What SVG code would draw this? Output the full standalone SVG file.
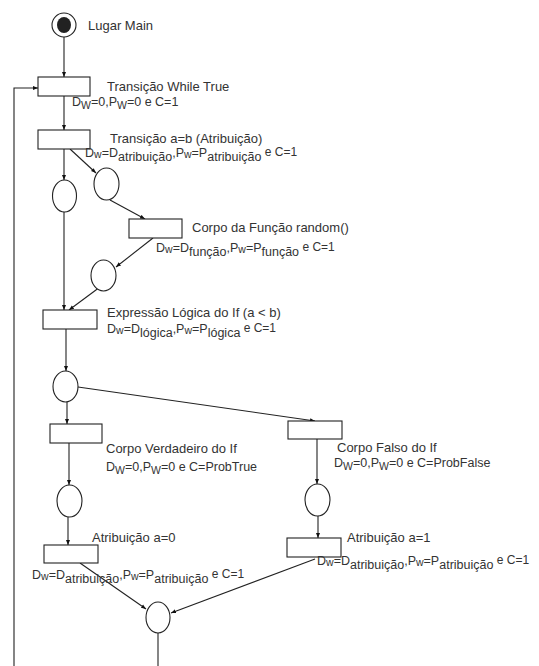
<svg xmlns="http://www.w3.org/2000/svg" width="539" height="666" viewBox="0 0 539 666">
<defs>
<marker id="ah" viewBox="0 0 10 10" refX="10" refY="5" markerWidth="5" markerHeight="5" orient="auto" markerUnits="userSpaceOnUse">
<path d="M0,1 L10,5 L0,9 z" fill="#111"/>
</marker>
<style>
.n{fill:#fff;stroke:#222;stroke-width:1.1}
.c{fill:none;stroke:#222;stroke-width:1.1}
.a{marker-end:url(#ah)}
text{font-family:"Liberation Sans",Arial,sans-serif;font-size:13px;fill:#333}
text.f{font-size:12.5px}
.s{font-size:10.5px}
.e{font-size:12px}
</style>
</defs>
<rect width="539" height="666" fill="#fff"/>
<g id="connectors">
<line class="c a" x1="64" y1="37" x2="64" y2="77"/>
<polyline class="c a" points="14,666 14,88 38,88"/>
<line class="c a" x1="64" y1="96" x2="64" y2="130"/>
<line class="c a" x1="64" y1="149" x2="64" y2="180"/>
<line class="c a" x1="70" y1="149" x2="96" y2="173"/>
<line class="c a" x1="110" y1="200" x2="145" y2="219"/>
<line class="c a" x1="153" y1="238" x2="116" y2="267"/>
<line class="c a" x1="64" y1="212" x2="64" y2="310"/>
<line class="c a" x1="100" y1="287" x2="69" y2="310"/>
<line class="c a" x1="66" y1="329" x2="66" y2="371"/>
<line class="c a" x1="78" y1="387" x2="315" y2="421"/>
<line class="c a" x1="67" y1="402" x2="67" y2="424"/>
<line class="c a" x1="69" y1="443" x2="69" y2="485"/>
<line class="c a" x1="68" y1="517" x2="68" y2="545"/>
<line class="c a" x1="317" y1="439" x2="317" y2="484"/>
<line class="c a" x1="318" y1="516" x2="318" y2="538"/>
<line class="c a" x1="80" y1="563" x2="146" y2="609"/>
<line class="c a" x1="315" y1="559" x2="171" y2="613"/>
<line class="c" x1="158" y1="633" x2="158" y2="666"/>
</g>
<g id="lugar-main">
<circle cx="64" cy="25" r="12" class="n"/>
<ellipse cx="64" cy="25" rx="7" ry="8" fill="#222"/>
<text x="88" y="30">Lugar Main</text>
</g>
<g id="t-while">
<rect x="38" y="77" width="52" height="19" class="n"/>
<text x="107" y="91">Transição While True</text>
<text class="f" x="72" y="106">D<tspan class="s" dy="3">W</tspan><tspan dy="-3">=0,P</tspan><tspan class="s" dy="3">W</tspan><tspan dy="-3">=0 e C=1</tspan></text>
</g>
<g id="t-atrib-ab">
<rect x="38" y="130" width="52" height="19" class="n"/>
<text x="110" y="143">Transição a=b (Atribuição)</text>
<text class="f" x="85" y="157">D<tspan class="s" dy="1">w</tspan><tspan dy="-1">=D</tspan><tspan dy="4">atribuição</tspan><tspan dy="-4">,P</tspan><tspan class="s" dy="1">w</tspan><tspan dy="-1">=P</tspan><tspan dy="4">atribuição</tspan><tspan dy="-5" class="e"> e C=1</tspan></text>
</g>
<g id="p1"><ellipse cx="64.5" cy="196" rx="12" ry="16" class="n"/></g>
<g id="p2"><ellipse cx="106.5" cy="184" rx="12.5" ry="16" class="n"/></g>
<g id="t-funcao">
<rect x="129" y="219" width="53" height="19" class="n"/>
<text x="192" y="232">Corpo da Função random()</text>
<text class="f" x="156" y="252">D<tspan class="s" dy="1">w</tspan><tspan dy="-1">=D</tspan><tspan dy="4">função</tspan><tspan dy="-4">,P</tspan><tspan class="s" dy="1">w</tspan><tspan dy="-1">=P</tspan><tspan dy="4">função</tspan><tspan dy="-5" class="e"> e C=1</tspan></text>
</g>
<g id="p3"><ellipse cx="103.5" cy="275.5" rx="12.5" ry="15.5" class="n"/></g>
<g id="t-logica">
<rect x="43" y="310" width="54" height="19" class="n"/>
<text x="107" y="317">Expressão Lógica do If (a &lt; b)</text>
<text class="f" x="107" y="333">D<tspan class="s" dy="1">w</tspan><tspan dy="-1">=D</tspan><tspan dy="4">lógica</tspan><tspan dy="-4">,P</tspan><tspan class="s" dy="1">w</tspan><tspan dy="-1">=P</tspan><tspan dy="4">lógica</tspan><tspan dy="-5" class="e"> e C=1</tspan></text>
</g>
<g id="p4"><ellipse cx="65.5" cy="386.5" rx="12.5" ry="15.5" class="n"/></g>
<g id="t-verdadeiro">
<rect x="50" y="424" width="52" height="19" class="n"/>
<text x="106" y="453">Corpo Verdadeiro do If</text>
<text class="f" x="106" y="471">D<tspan class="s" dy="3">W</tspan><tspan dy="-3">=0,P</tspan><tspan class="s" dy="3">W</tspan><tspan dy="-3">=0 e C=ProbTrue</tspan></text>
</g>
<g id="t-falso">
<rect x="288" y="421" width="54" height="18" class="n"/>
<text x="337" y="452">Corpo Falso do If</text>
<text class="f" x="334" y="467">D<tspan class="s" dy="3">W</tspan><tspan dy="-3">=0,P</tspan><tspan class="s" dy="3">W</tspan><tspan dy="-3">=0 e C=ProbFalse</tspan></text>
</g>
<g id="p5"><ellipse cx="69.5" cy="501" rx="12.5" ry="16" class="n"/></g>
<g id="p6"><ellipse cx="317.5" cy="500" rx="12.5" ry="16" class="n"/></g>
<g id="t-a0">
<rect x="44" y="545" width="54" height="18" class="n"/>
<text x="92" y="542">Atribuição a=0</text>
<text class="f" x="32" y="579">D<tspan class="s" dy="1">w</tspan><tspan dy="-1">=D</tspan><tspan dy="4">atribuição</tspan><tspan dy="-4">,P</tspan><tspan class="s" dy="1">w</tspan><tspan dy="-1">=P</tspan><tspan dy="4">atribuição</tspan><tspan dy="-5" class="e"> e C=1</tspan></text>
</g>
<g id="t-a1">
<rect x="287" y="538" width="54" height="19" class="n"/>
<text x="347" y="542">Atribuição a=1</text>
<text class="f" x="317" y="565">D<tspan class="s" dy="1">w</tspan><tspan dy="-1">=D</tspan><tspan dy="4">atribuição</tspan><tspan dy="-4">,P</tspan><tspan class="s" dy="1">w</tspan><tspan dy="-1">=P</tspan><tspan dy="4">atribuição</tspan><tspan dy="-5" class="e"> e C=1</tspan></text>
</g>
<g id="p-final"><ellipse cx="158" cy="617.5" rx="12" ry="15.5" class="n"/></g>
</svg>
